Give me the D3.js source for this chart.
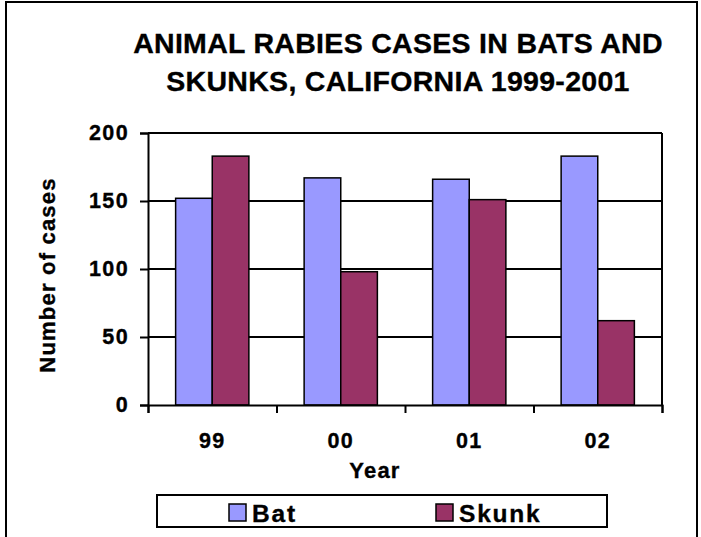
<!DOCTYPE html>
<html>
<head>
<meta charset="utf-8">
<script src="https://cdn.jsdelivr.net/npm/d3@7"></script>
<style>
  body { margin: 0; background: #fff; }
  text { font-family: "Liberation Sans", Arial, sans-serif; font-weight: bold; fill: #000;
         stroke: #000; stroke-width: 0.35px; }
</style>
</head>
<body>
<script>
// data
const years = ["99", "00", "01", "02"];
const seriesNames = ["Bat", "Skunk"];
const batCases = [152, 167, 166, 183];
const skunkCases = [183, 98, 151, 62];
const yTicks = [0, 50, 100, 150, 200];
const titleLines = ["ANIMAL RABIES CASES IN BATS AND", "SKUNKS, CALIFORNIA 1999-2001"];

const width = 701, height = 537;
const plot = { left: 148, right: 662, top: 133, bottom: 405 };
const colors = { Bat: "#9999ff", Skunk: "#993366" };

var svg = d3.select("body").append("svg")
    .attr("width", width)
    .attr("height", height);

// outer frame
svg.append("rect")
    .attr("x", 6).attr("y", 2)
    .attr("width", 691).attr("height", 560)
    .attr("fill", "none")
    .attr("stroke", "#000")
    .attr("stroke-width", 2);

// title
svg.append("g").selectAll("text")
    .data(titleLines)
    .enter().append("text")
    .attr("x", 398)
    .attr("y", (d, i) => 53 + i * 38)
    .attr("text-anchor", "middle")
    .style("font-size", "28.5px")
    .style("letter-spacing", "0.3px")
    .text(d => d);

// scales
var x0 = d3.scaleBand().domain(years).range([plot.left, plot.right]);
var x1 = d3.scaleBand().domain(seriesNames)
    .range([x0.bandwidth() * 0.215, x0.bandwidth() * 0.785]);
var y = d3.scaleLinear().domain([0, 200]).range([plot.bottom, plot.top]);

// gridlines
svg.append("g").selectAll("line")
    .data(yTicks.filter(d => d > 0))
    .enter().append("line")
    .attr("x1", plot.left).attr("x2", plot.right)
    .attr("y1", d => y(d)).attr("y2", d => y(d))
    .attr("stroke", "#000")
    .attr("stroke-width", 2);

// right edge of plot
svg.append("line")
    .attr("x1", plot.right).attr("x2", plot.right)
    .attr("y1", plot.top).attr("y2", plot.bottom)
    .attr("stroke", "#000").attr("stroke-width", 2);

// bars
var rows = years.map((yr, i) => ({ year: yr, Bat: batCases[i], Skunk: skunkCases[i] }));
svg.append("g").selectAll("g")
    .data(rows)
    .enter().append("g")
    .attr("transform", d => "translate(" + x0(d.year) + ",0)")
    .selectAll("rect")
    .data(d => seriesNames.map(s => ({ key: s, value: d[s] })))
    .enter().append("rect")
    .attr("x", d => x1(d.key))
    .attr("y", d => y(d.value))
    .attr("width", x1.bandwidth())
    .attr("height", d => plot.bottom - y(d.value))
    .attr("fill", d => colors[d.key])
    .attr("stroke", "#000")
    .attr("stroke-width", 1.5);

// y axis
var yAxis = svg.append("g")
    .attr("transform", "translate(" + plot.left + ",0)")
    .call(d3.axisLeft(y).tickValues(yTicks).tickSize(8).tickPadding(11));
yAxis.select(".domain").attr("stroke-width", 2);
yAxis.selectAll(".tick line").attr("stroke-width", 2);
yAxis.selectAll(".tick text").style("font-size", "21.5px").style("letter-spacing", "1.4px").style("font-family", null);

// x axis: boundary ticks
var xEdge = d3.scaleLinear().domain([0, years.length]).range([plot.left, plot.right]);
var xAxis = svg.append("g")
    .attr("transform", "translate(0," + plot.bottom + ")")
    .call(d3.axisBottom(xEdge).tickValues(d3.range(years.length + 1)).tickSize(8).tickFormat(""));
xAxis.select(".domain").attr("stroke-width", 2);
xAxis.selectAll(".tick line").attr("stroke-width", 2);

// category labels
var xLab = svg.append("g")
    .attr("transform", "translate(0," + plot.bottom + ")")
    .call(d3.axisBottom(x0).tickSize(0).tickPadding(28));
xLab.select(".domain").remove();
xLab.selectAll(".tick text").style("font-size", "21.5px").style("letter-spacing", "1.4px").style("font-family", null);

// axis titles
svg.append("text")
    .attr("x", 375).attr("y", 478)
    .attr("text-anchor", "middle")
    .style("font-size", "22px")
    .style("letter-spacing", "1.2px")
    .text("Year");

svg.append("text")
    .attr("transform", "translate(55,275) rotate(-90)")
    .attr("text-anchor", "middle")
    .style("font-size", "22px")
    .style("letter-spacing", "1.2px")
    .text("Number of cases");

// legend
var legend = svg.append("g");
legend.append("rect")
    .attr("x", 157).attr("y", 495)
    .attr("width", 450).attr("height", 32)
    .attr("fill", "#fff")
    .attr("stroke", "#000")
    .attr("stroke-width", 2);
var legendX = [229, 436];
var items = legend.selectAll("g.item")
    .data(seriesNames)
    .enter().append("g")
    .attr("class", "item")
    .attr("transform", (d, i) => "translate(" + legendX[i] + ",504)");
items.append("rect")
    .attr("width", 17).attr("height", 17)
    .attr("fill", d => colors[d])
    .attr("stroke", "#000")
    .attr("stroke-width", 1.5);
items.append("text")
    .attr("x", 23).attr("y", 18)
    .style("font-size", "24.5px")
    .style("letter-spacing", "1.8px")
    .text(d => d);
</script>
</body>
</html>
